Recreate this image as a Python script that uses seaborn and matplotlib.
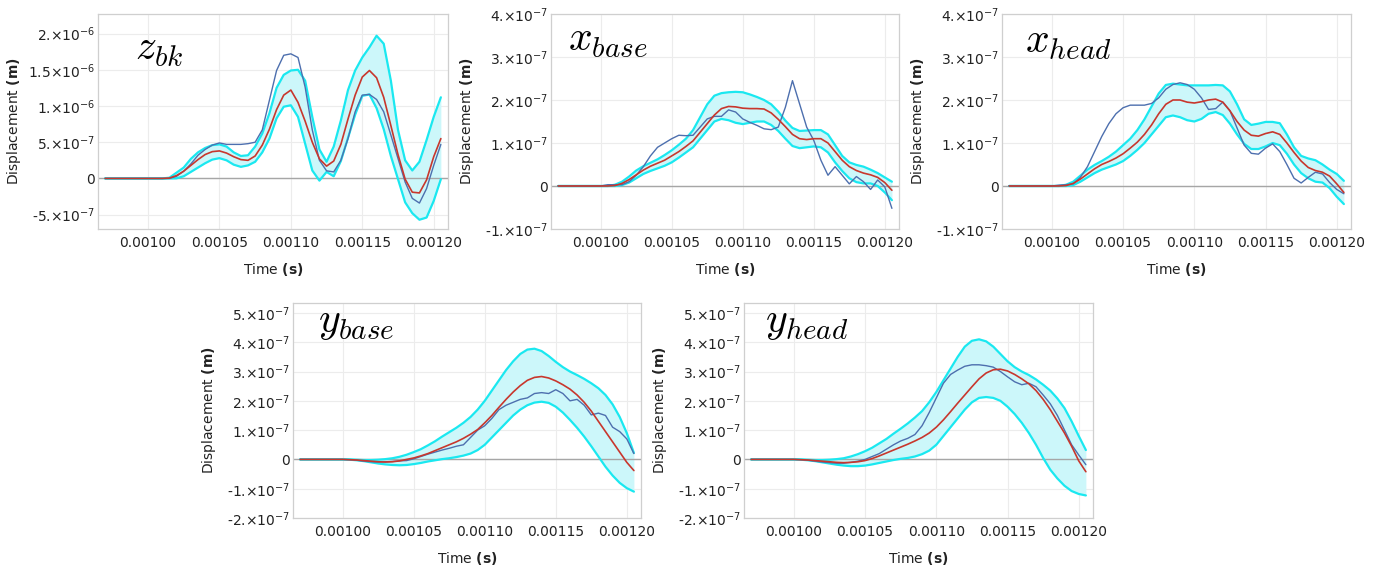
import numpy as np
import pandas as pd
import seaborn as sns
import matplotlib
matplotlib.use("Agg")
import matplotlib.pyplot as plt
from matplotlib.ticker import FixedLocator, MultipleLocator, AutoMinorLocator, FuncFormatter

# sample times (s): start of record, then every 5 microseconds up to the end
time = [0.00097] + [round(0.00100 + 0.000005 * k, 6) for k in range(41)] + [0.001205]

# z_bk, values in 1e-7 m
zbk_mean = [0, 0, 0, 0, 0.05, 0.4, 1.0, 1.8, 2.6, 3.3, 3.7, 3.8, 3.5, 3.0, 2.6, 2.5, 3.1, 4.6, 6.8, 9.5, 11.5,
            12.2, 10.5, 7.9, 5.0, 2.7, 1.7, 2.4, 4.7, 8.2, 11.5, 14.0, 14.9, 13.9, 11.2, 7.3, 3.3, -0.1, -1.9,
            -2.0, -0.2, 3.0, 5.5]
zbk_upper = [0, 0, 0, 0, 0.1, 0.8, 1.5, 2.7, 3.6, 4.2, 4.6, 4.7, 4.4, 3.6, 3.1, 3.2, 4.4, 6.2, 9.0, 12.5, 14.3,
             14.9, 15.0, 13.5, 8.5, 4.0, 2.3, 4.4, 8.0, 12.2, 14.9, 16.7, 18.1, 19.7, 18.6, 13.5, 6.7, 2.5, 1.1,
             2.3, 5.3, 8.5, 11.2]
zbk_lower = [0, 0, 0, 0, 0, 0.02, 0.3, 0.9, 1.5, 2.1, 2.6, 2.8, 2.5, 1.9, 1.6, 1.8, 2.3, 3.6, 5.5, 8.3, 9.9,
             10.1, 8.5, 4.8, 1.1, -0.3, 0.9, 0.3, 2.4, 5.6, 8.8, 11.4, 11.6, 9.7, 6.8, 3.1, -0.1, -3.3, -4.8,
             -5.7, -5.4, -3.1, -0.1]
zbk_meas = [0, 0, 0, 0, 0, 0.3, 1.0, 2.0, 3.2, 4.0, 4.6, 4.9, 4.7, 4.7, 4.7, 4.8, 5.0, 6.7, 10.8, 14.9, 17.0,
            17.2, 16.7, 12.6, 6.7, 2.5, 1.05, 0.9, 2.5, 5.5, 9.2, 11.5, 11.6, 10.9, 9.2, 6.0, 2.75, -0.5, -2.75,
            -3.4, -1.4, 1.8, 4.7]

# x_base, values in 1e-8 m
xbase_mean = [0, 0, 0, 0.1, 0.6, 1.5, 2.6, 3.7, 4.6, 5.3, 6.0, 7.0, 8.0, 9.2, 10.5, 12.5, 14.5, 16.5, 18.0, 18.5,
              18.4, 18.1, 18.0, 18.0, 17.9, 17.0, 15.5, 13.8, 12.0, 11.0, 10.8, 11.0, 11.0, 10.0, 8.0, 6.0, 4.5,
              3.6, 3.0, 2.6, 2.0, 0.8, -1.0]
xbase_upper = [0, 0, 0, 0.3, 1.0, 2.2, 3.6, 4.6, 5.4, 6.2, 7.2, 8.3, 9.6, 11.0, 13.0, 16.0, 19.0, 21.0, 21.6,
               21.8, 21.9, 21.8, 21.3, 20.7, 20.0, 19.0, 17.3, 15.2, 13.5, 12.8, 12.9, 13.0, 13.0, 12.0, 9.5, 7.0,
               5.5, 4.9, 4.5, 3.8, 3.0, 2.0, 1.0]
xbase_lower = [0, 0, 0, 0, 0.2, 0.8, 1.8, 2.8, 3.5, 4.1, 4.7, 5.5, 6.6, 7.8, 9.0, 11.0, 13.0, 15.0, 15.6, 15.3,
               14.7, 14.4, 14.7, 15.0, 15.0, 14.2, 12.8, 11.0, 9.3, 8.8, 9.0, 9.2, 9.0, 7.8, 5.5, 3.5, 1.8, 0.9,
               0.6, 0.6, 0.0, -1.5, -3.3]
xbase_meas = [0, 0, 0.3, 0.3, 0.3, 1.0, 2.5, 4.5, 7.0, 9.0, 10.0, 11.0, 11.8, 11.7, 11.8, 13.7, 15.6, 16.2, 16.2,
              17.7, 17.2, 15.6, 14.8, 14.1, 13.3, 13.1, 13.7, 18.3, 24.5, 19.1, 13.7, 10.6, 6.0, 2.5, 4.5, 2.5,
              0.5, 2.2, 1.0, -0.8, 1.4, -0.2, -5.2]

# x_head, values in 1e-8 m
xhead_mean = [0, 0, 0, 0.1, 0.6, 1.6, 2.8, 4.0, 5.0, 5.7, 6.5, 7.5, 8.8, 10.2, 12.0, 14.2, 16.8, 19.0, 20.0, 20.0,
              19.5, 19.3, 19.6, 20.0, 20.2, 19.5, 17.5, 15.0, 13.0, 11.8, 11.6, 12.2, 12.6, 12.0, 10.0, 7.8, 5.8,
              4.3, 3.6, 3.2, 2.3, 0.5, -1.5]
xhead_upper = [0, 0, 0, 0.3, 1.0, 2.4, 3.8, 4.9, 5.8, 6.8, 8.0, 9.5, 11.0, 13.0, 15.5, 18.5, 21.5, 23.5, 23.8,
               23.6, 23.4, 23.4, 23.4, 23.4, 23.5, 23.4, 22.0, 19.0, 15.5, 14.2, 14.5, 14.9, 14.9, 14.6, 12.0, 9.0,
               7.0, 6.4, 6.0, 5.0, 3.8, 2.8, 1.2]
xhead_lower = [0, 0, 0, 0, 0.2, 1.0, 2.0, 3.0, 3.8, 4.4, 5.0, 5.8, 7.0, 8.4, 10.0, 12.0, 14.0, 16.0, 16.4, 16.0,
               15.3, 15.0, 15.6, 16.8, 17.2, 16.5, 14.5, 12.0, 9.8, 8.6, 8.6, 9.2, 10.0, 9.5, 7.5, 5.0, 3.0, 1.8,
               1.0, 0.8, -0.5, -2.5, -4.2]
xhead_meas = [0, 0, 0.2, 0.3, 0.5, 2.0, 4.5, 8.0, 11.5, 14.5, 16.8, 18.2, 18.8, 18.8, 18.8, 19.2, 20.5, 22.5, 23.6,
              24.0, 23.6, 22.5, 20.5, 17.8, 18.0, 19.5, 17.5, 13.5, 9.5, 7.6, 7.4, 8.8, 9.8, 8.0, 5.0, 1.8, 0.7,
              2.0, 3.2, 2.8, 0.8, -0.8, -1.8]

# y_base, values in 1e-8 m
ybase_mean = [0, 0, -0.1, -0.2, -0.4, -0.6, -0.8, -0.9, -0.8, -0.5, 0.0, 0.5, 1.2, 2.0, 3.0, 4.0, 5.0, 6.0, 7.2,
              8.6, 10.2, 12.5, 15.0, 17.8, 20.5, 23.0, 25.2, 27.0, 28.0, 28.3, 27.8, 26.8, 25.5, 24.0, 22.0, 19.5,
              16.5, 13.0, 9.5, 6.0, 2.5, -1.0, -3.8]
ybase_upper = [0, 0, 0, -0.1, -0.2, -0.2, -0.1, 0.1, 0.4, 0.9, 1.6, 2.5, 3.5, 4.8, 6.2, 7.8, 9.3, 10.8, 12.5,
               14.5, 17.0, 20.0, 23.5, 27.0, 30.5, 33.5, 36.0, 37.5, 37.8, 37.0, 35.3, 33.3, 31.5, 30.0, 28.8,
               27.5, 26.0, 24.3, 22.0, 18.8, 14.5, 9.0, 2.2]
ybase_lower = [0, 0, -0.1, -0.3, -0.6, -1.0, -1.4, -1.7, -1.9, -2.0, -1.9, -1.6, -1.2, -0.7, -0.3, 0.1, 0.4, 0.8,
               1.3, 2.0, 3.2, 5.0, 7.5, 10.0, 12.5, 15.0, 17.0, 18.5, 19.4, 19.7, 19.3, 18.0, 16.0, 13.5, 10.8,
               7.8, 4.5, 1.0, -2.5, -5.5, -8.0, -9.8, -11.0]
ybase_meas = [0, 0, -0.1, -0.3, -0.6, -0.8, -0.9, -0.8, -0.7, -0.5, -0.4, 0.2, 1.0, 1.8, 2.5, 3.2, 3.8, 4.5, 5.0,
              7.5, 10.0, 11.5, 14.0, 17.0, 18.5, 19.5, 20.5, 21.0, 22.5, 22.8, 22.5, 23.8, 22.5, 20.0, 20.5, 18.5,
              15.2, 15.8, 15.0, 11.0, 9.5, 7.0, 2.0]

# y_head, values in 1e-8 m
yhead_mean = [0, 0, -0.1, -0.2, -0.4, -0.6, -0.8, -1.0, -1.1, -1.0, -0.8, -0.4, 0.3, 1.2, 2.2, 3.2, 4.2, 5.2, 6.3,
              7.5, 9.0, 11.0, 13.5, 16.3, 19.2, 22.0, 24.8, 27.5, 29.5, 30.6, 30.8, 30.2, 29.0, 27.5, 25.8, 23.5,
              20.5, 17.0, 13.0, 9.0, 4.5, -0.5, -4.2]
yhead_upper = [0, 0, 0, -0.1, -0.2, -0.2, -0.1, 0.1, 0.4, 1.0, 1.8, 2.8, 4.0, 5.5, 7.0, 8.8, 10.5, 12.3, 14.3,
               16.5, 19.5, 23.0, 27.0, 31.0, 35.0, 38.5, 40.5, 41.0, 40.3, 38.5, 36.0, 33.5, 31.5, 30.0, 28.8,
               27.3, 25.5, 23.5, 20.8, 17.5, 13.0, 8.0, 3.2]
yhead_lower = [0, 0, -0.1, -0.3, -0.6, -1.0, -1.4, -1.8, -2.1, -2.3, -2.3, -2.1, -1.7, -1.2, -0.7, -0.2, 0.2, 0.5,
               1.0, 1.8, 3.0, 5.0, 8.0, 11.0, 14.0, 17.0, 19.5, 21.0, 21.3, 21.0, 20.0, 18.0, 15.5, 12.5, 9.0, 5.0,
               0.5, -3.5, -6.5, -9.0, -10.8, -11.8, -12.3]
yhead_meas = [0, 0, -0.1, -0.3, -0.6, -0.9, -1.1, -1.3, -1.3, -1.0, -0.6, 0.0, 1.0, 2.0, 3.5, 5.0, 6.3, 7.2, 8.5,
              11.5, 16.0, 21.0, 26.0, 29.0, 30.5, 31.8, 32.3, 32.3, 32.0, 31.5, 30.0, 28.2, 26.5, 25.5, 26.0,
              24.8, 22.0, 19.0, 15.0, 10.0, 5.0, 1.5, -1.8]

x_ticks = [0.00100, 0.00105, 0.00110, 0.00115, 0.00120]

panels = [
    dict(name=r"$z_{bk}$", scale=1e-7, series=(zbk_mean, zbk_upper, zbk_lower, zbk_meas),
         ylim=(-6.98e-7, 2.27e-6), yticks=[-5e-7, 0, 5e-7, 1e-6, 1.5e-6, 2e-6],
         rect=(98, 229, 350), title_xy=(0.105, 0.786)),
    dict(name=r"$x_{base}$", scale=1e-8, series=(xbase_mean, xbase_upper, xbase_lower, xbase_meas),
         ylim=(-1e-7, 4e-7), yticks=[-1e-7, 0, 1e-7, 2e-7, 3e-7, 4e-7],
         rect=(551, 229, 348), title_xy=(0.05, 0.83)),
    dict(name=r"$x_{head}$", scale=1e-8, series=(xhead_mean, xhead_upper, xhead_lower, xhead_meas),
         ylim=(-1e-7, 4e-7), yticks=[-1e-7, 0, 1e-7, 2e-7, 3e-7, 4e-7],
         rect=(1002, 229, 349), title_xy=(0.066, 0.82)),
    dict(name=r"$y_{base}$", scale=1e-8, series=(ybase_mean, ybase_upper, ybase_lower, ybase_meas),
         ylim=(-2e-7, 5.34e-7), yticks=[-2e-7, -1e-7, 0, 1e-7, 2e-7, 3e-7, 4e-7, 5e-7],
         rect=(293, 518, 348), title_xy=(0.072, 0.865)),
    dict(name=r"$y_{head}$", scale=1e-8, series=(yhead_mean, yhead_upper, yhead_lower, yhead_meas),
         ylim=(-2e-7, 5.34e-7), yticks=[-2e-7, -1e-7, 0, 1e-7, 2e-7, 3e-7, 4e-7, 5e-7],
         rect=(744, 518, 349), title_xy=(0.06, 0.865)),
]

RED = "#c8372d"
BLUE = "#4d6fae"
CYAN = "#1ae8f0"
FILL = "#ccf7fa"


def sci_label(v, pos):
    if abs(v) < 1e-15:
        return "0"
    exp = int(np.floor(np.log10(abs(v)) + 1e-9))
    mant = round(v / 10 ** exp, 3)
    if float(mant).is_integer():
        m = f"{int(mant)}."
    else:
        m = f"{mant:g}"
    return m + "×10$^{" + str(exp) + "}$"


sns.set_style("white")
plt.rcParams["font.family"] = ["DejaVu Sans"]
plt.rcParams["mathtext.fontset"] = "dejavusans"

W, H = 1381, 568
fig = plt.figure(figsize=(W / 100, H / 100), dpi=100)

for p in panels:
    left, bottom, width = p["rect"]
    ax = fig.add_axes([left / W, 1 - bottom / H, width / W, 215 / H])
    mean, upper, lower, meas = [np.array(s) * p["scale"] for s in p["series"]]
    df = pd.DataFrame({"time": time, "mean": mean, "upper": upper, "lower": lower, "meas": meas})

    ax.fill_between(df["time"], df["lower"], df["upper"], color=FILL, lw=0, zorder=1)
    ax.axhline(0, color="#a6a6a6", lw=1.0, zorder=1.5)
    sns.lineplot(data=df, x="time", y="upper", ax=ax, color=CYAN, lw=1.6, zorder=2)
    sns.lineplot(data=df, x="time", y="lower", ax=ax, color=CYAN, lw=1.6, zorder=2)
    sns.lineplot(data=df, x="time", y="meas", ax=ax, color=BLUE, lw=1.0, zorder=3)
    sns.lineplot(data=df, x="time", y="mean", ax=ax, color=RED, lw=1.2, zorder=4)

    ax.set_xlim(0.000965, 0.00121)
    ax.set_ylim(*p["ylim"])
    ax.xaxis.set_major_locator(FixedLocator(x_ticks))
    ax.xaxis.set_major_formatter(FuncFormatter(lambda v, pos: f"{v:.5f}"))
    ax.xaxis.set_minor_locator(MultipleLocator(0.00001))
    ax.yaxis.set_major_locator(FixedLocator(p["yticks"]))
    ax.yaxis.set_major_formatter(FuncFormatter(sci_label))
    ax.yaxis.set_minor_locator(AutoMinorLocator(5))

    ax.grid(True, which="major", color="#ececec", lw=0.8)
    ax.set_axisbelow(True)
    for s in ax.spines.values():
        s.set_color("#cfcfcf")
        s.set_linewidth(0.9)
    ax.tick_params(axis="both", which="major", direction="in", length=4, width=0.6,
                   color="#bdbdbd", labelsize=10, labelcolor="#222222")
    ax.tick_params(axis="both", which="minor", direction="in", length=2, width=0.5, color="#c8c8c8")
    ax.tick_params(axis="x", which="major", pad=5)
    ax.tick_params(axis="y", which="major", pad=2)

    ax.set_xlabel(r"Time $\mathbf{(s)}$", fontsize=10, color="#222222")
    ax.set_ylabel(r"Displacement $\mathbf{(m)}$", fontsize=10, color="#222222")
    ax.xaxis.set_label_coords(0.5, -0.15)
    ax.xaxis.label.set_va("top")
    ax.yaxis.set_label_coords(-0.215, 0.5)

    tx, ty = p["title_xy"]
    ax.text(tx, ty, p["name"], transform=ax.transAxes, fontsize=30, ha="left", va="baseline",
            math_fontfamily="cm", color="black")

fig.savefig("out.png", dpi=100, facecolor="white")
